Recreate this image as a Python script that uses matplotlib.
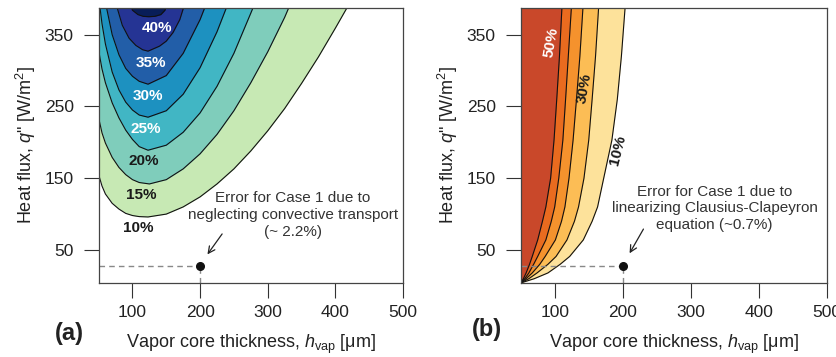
import matplotlib
matplotlib.use("Agg")
import matplotlib.pyplot as plt

plt.rcParams['font.family'] = ['Liberation Sans', 'DejaVu Sans']
plt.rcParams['mathtext.fontset'] = 'custom'
plt.rcParams['mathtext.rm'] = 'Liberation Sans'
plt.rcParams['mathtext.it'] = 'Liberation Sans:italic'

# ---- panel (a): contour lines q(h) for each error level ----
levels_a = [10, 15, 20, 25, 30, 35, 40]
colors_a = ['#c7e9b4', '#7fcdbb', '#41b6c4', '#1d91c0', '#225ea8', '#253494', '#081d58']

h_a10 = [50, 55, 60, 70, 80, 90, 100, 110, 123, 150, 175, 200, 225, 250, 275, 300, 325, 350, 375, 400, 420]
q_a10 = [155, 139, 128, 115, 107, 101, 98, 96.5, 96, 100, 110, 124, 142, 163, 188, 216, 247, 282, 319, 359, 392]
h_a15 = [50, 55, 60, 70, 80, 90, 100, 110, 125, 150, 175, 200, 225, 250, 275, 300, 325, 335]
q_a15 = [234, 213, 199, 179, 165, 155, 148, 144, 142, 148, 163, 184, 211, 244, 283, 326, 374, 396]
h_a20 = [50, 55, 60, 70, 80, 90, 100, 110, 123, 150, 175, 200, 225, 250, 275, 282]
q_a20 = [328, 302, 283, 255, 234, 217, 204, 194, 189, 196, 214, 241, 278, 324, 380, 396]
h_a25 = [51, 55, 60, 70, 80, 90, 100, 110, 123, 150, 175, 200, 225, 242]
q_a25 = [395, 365, 337, 298, 273, 256, 245, 238, 235, 244, 267, 304, 354, 395]
h_a30 = [60, 70, 80, 90, 100, 110, 123, 150, 175, 200, 210]
q_a30 = [395, 350, 322, 303, 292, 285, 281, 293, 324, 371, 395]
h_a35 = [75, 85, 95, 105, 115, 123, 140, 150, 160, 170, 178]
q_a35 = [395, 363, 345, 335, 329, 327, 334, 341, 353, 371, 395]
h_a40 = [96, 100, 108, 116, 124, 133, 142, 148, 152]
q_a40 = [395, 384, 378, 375.5, 375, 375.5, 378, 384, 395]

curves_a = [(h_a10, q_a10), (h_a15, q_a15), (h_a20, q_a20), (h_a25, q_a25),
            (h_a30, q_a30), (h_a35, q_a35), (h_a40, q_a40)]

labels_a = ['40%', '35%', '30%', '25%', '20%', '15%', '10%']
label_h_a = [135.6, 128, 123.3, 120, 116, 113.5, 108.5]
label_q_a = [359, 310, 264, 218, 174, 127, 81]
label_col_a = ['white', 'white', 'white', 'white', '#1a1a1a', '#1a1a1a', '#1a1a1a']

# ---- panel (b): contour lines h(q) for each error level ----
colors_b = ['#fde29b', '#fcbd55', '#f5922d', '#e96b1f', '#c9482a']
q_b = [4, 10, 18, 30, 41, 64, 90, 110, 150, 203, 260, 320, 395]
h_b10 = [50, 70, 90, 108, 122, 142, 155, 163, 172, 184, 192, 198, 204]
h_b20 = [50, 62, 74, 90, 102, 118, 129, 135, 143, 150, 155, 160, 165]
h_b30 = [50, 58, 67, 78, 86, 101, 110, 115, 121, 127, 132, 137, 142]
h_b40 = [50, 56, 62, 69, 75, 87, 95, 100, 106, 112, 116, 120, 125]
h_b50 = [50, 54, 58, 63, 67, 75, 82, 87, 94, 99, 103, 107, 111]
curves_b = [h_b10, h_b20, h_b30, h_b40, h_b50]

labels_b = ['50%', '30%', '10%']
label_h_b = [95, 144, 193]
label_q_b = [339, 275, 189]
label_col_b = ['white', '#1a1a1a', '#1a1a1a']
label_rot_b = [80, 80, 76]

case_h, case_q = 200, 27

xticks = [100, 200, 300, 400, 500]
yticks = [50, 150, 250, 350]

fig = plt.figure(figsize=(8.36, 3.57), dpi=100)
ax1 = fig.add_axes([0.118, 0.2073, 0.364, 0.770])
ax2 = fig.add_axes([0.6228, 0.2073, 0.3664, 0.770])

for (h, q), c in zip(curves_a, colors_a):
    ax1.fill_between(h, q, 400, color=c, lw=0)
for h, q in curves_a:
    ax1.plot(h, q, color='#111', lw=0.8)
for t, x, y, c in zip(labels_a, label_h_a, label_q_a, label_col_a):
    ax1.text(x, y, t, color=c, fontsize=11, fontweight='bold', ha='center', va='center')

for h, c in zip(curves_b, colors_b):
    ax2.fill_betweenx(q_b, 40, h, color=c, lw=0)
for h in curves_b:
    ax2.plot(h, q_b, color='#111', lw=0.8)
for t, x, y, c, r in zip(labels_b, label_h_b, label_q_b, label_col_b, label_rot_b):
    ax2.text(x, y, t, color=c, fontsize=11, fontweight='bold', ha='center', va='center',
             rotation=r)

notes = ["Error for Case 1 due to\nneglecting convective transport\n(~ 2.2%)",
         "Error for Case 1 due to\nlinearizing Clausius-Clapeyron\nequation (~0.7%)"]
note_xy = [(337.5, 99), (335, 108)]
arrow_tail = [(235, 75.5), (232.4, 82.5)]
arrow_head = [(208.5, 40.7), (208, 42)]

for ax, note, nxy, tail, head in zip([ax1, ax2], notes, note_xy, arrow_tail, arrow_head):
    ax.plot([50, case_h], [case_q, case_q], color='#888', lw=1, ls=(0, (4, 3)))
    ax.plot([case_h, case_h], [4, case_q], color='#888', lw=1, ls=(0, (4, 3)))
    ax.plot(case_h, case_q, 'o', color='#111', ms=5.5)
    ax.text(nxy[0], nxy[1], note, ha='center', va='center', fontsize=11,
            color='#333', linespacing=1.25)
    ax.annotate('', xy=head, xytext=tail,
                arrowprops=dict(arrowstyle='->', lw=0.9, color='#222', mutation_scale=12))

    ax.set_xlim(50, 500)
    ax.set_ylim(4, 387)
    ax.set_xticks(xticks)
    ax.set_yticks(yticks)
    ax.tick_params(length=10.5, width=0.8, color='#333', labelsize=12.5, labelcolor='#222')
    ax.tick_params(axis='x', pad=5)
    ax.tick_params(axis='y', pad=7.5)
    for s in ax.spines.values():
        s.set_color('#444')
        s.set_linewidth(0.9)
    ax.set_xlabel(r'Vapor core thickness, $h_{\rm vap}$ [μm]', fontsize=13, color='#222', labelpad=9.5)
    ax.set_ylabel(r'Heat flux, $q$" [W/m$^2$]', fontsize=13, color='#222', labelpad=5)

fig.text(0.083, 0.067, '(a)', fontsize=17, fontweight='bold', ha='center', va='center', color='#222')
fig.text(0.582, 0.076, '(b)', fontsize=17, fontweight='bold', ha='center', va='center', color='#222')

fig.savefig('out.png', dpi=100)
